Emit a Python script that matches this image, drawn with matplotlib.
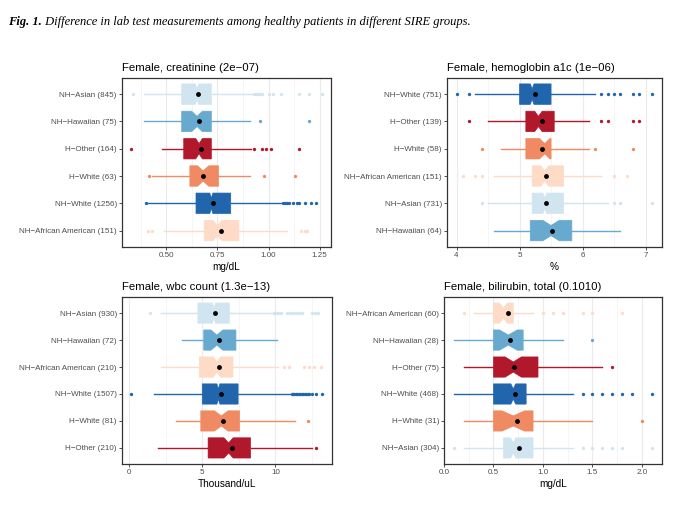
import numpy as np
import matplotlib.pyplot as plt
from matplotlib.ticker import MultipleLocator, FormatStrFormatter

plt.rcParams['font.family'] = ['Liberation Sans', 'DejaVu Sans']

# couleurs par groupe (palette RdBu)
couleurs = {'H-Other': '#B2182B', 'H-White': '#EF8A62', 'NH-African American': '#FDDBC7',
            'NH-Asian': '#D1E5F0', 'NH-Hawaiian': '#67A9CF', 'NH-White': '#2166AC'}

#%% creatinine
cre_groupes = ['NH-Asian', 'NH-Hawaiian', 'H-Other', 'H-White', 'NH-White', 'NH-African American']
cre_n = [845, 75, 164, 63, 1256, 151]
cre_bas = [0.39, 0.39, 0.48, 0.43, 0.41, 0.49]
cre_q1 = [0.575, 0.575, 0.585, 0.615, 0.645, 0.685]
cre_med = [0.65, 0.65, 0.66, 0.68, 0.72, 0.75]
cre_q3 = [0.72, 0.72, 0.72, 0.755, 0.815, 0.855]
cre_haut = [0.92, 0.91, 0.915, 0.91, 1.06, 1.09]
cre_moy = [0.655, 0.662, 0.67, 0.68, 0.727, 0.767]
cre_ext = [[0.335, 0.93, 0.94, 0.95, 0.96, 0.97, 1.00, 1.02, 1.06, 1.15, 1.20, 1.26],
           [0.96, 1.20],
           [0.328, 0.93, 0.97, 0.99, 1.01, 1.15],
           [0.415, 0.98, 1.13],
           [0.40, 1.07, 1.08, 1.09, 1.10, 1.12, 1.14, 1.15, 1.18, 1.21, 1.23],
           [0.41, 0.43, 1.16, 1.18, 1.19]]

#%% hemoglobin a1c
hba_groupes = ['NH-White', 'H-Other', 'H-White', 'NH-African American', 'NH-Asian', 'NH-Hawaiian']
hba_n = [751, 139, 58, 151, 731, 64]
hba_bas = [4.3, 4.5, 4.7, 4.6, 4.5, 4.6]
hba_q1 = [5.0, 5.1, 5.1, 5.2, 5.2, 5.17]
hba_med = [5.2, 5.3, 5.4, 5.4, 5.4, 5.5]
hba_q3 = [5.5, 5.55, 5.5, 5.7, 5.7, 5.83]
hba_haut = [6.2, 6.1, 6.1, 6.3, 6.4, 6.6]
hba_moy = [5.25, 5.35, 5.35, 5.42, 5.42, 5.52]
hba_ext = [[4.0, 4.2, 6.3, 6.4, 6.5, 6.6, 6.8, 6.9, 7.1],
           [4.2, 6.3, 6.4, 6.8, 6.9],
           [4.4, 6.2, 6.8],
           [4.1, 4.3, 4.4, 6.5, 6.7],
           [4.4, 6.5, 6.6, 7.1],
           []]

#%% wbc count
wbc_groupes = ['NH-Asian', 'NH-Hawaiian', 'NH-African American', 'NH-White', 'H-White', 'H-Other']
wbc_n = [930, 72, 210, 1507, 81, 210]
wbc_bas = [2.2, 3.6, 2.2, 1.7, 3.2, 2.0]
wbc_q1 = [4.7, 5.1, 4.8, 5.0, 4.9, 5.4]
wbc_med = [5.8, 6.0, 6.0, 6.1, 6.3, 6.8]
wbc_q3 = [6.85, 7.3, 7.1, 7.45, 7.55, 8.3]
wbc_haut = [9.8, 10.1, 10.2, 11.0, 11.35, 12.5]
wbc_moy = [5.9, 6.13, 6.13, 6.29, 6.4, 7.0]
wbc_ext = [[1.4, 9.9, 10.0, 10.1, 10.2, 10.4, 10.8, 11.0, 11.2, 11.4, 11.6, 11.8, 12.5, 12.7, 12.9],
           [],
           [10.6, 10.9, 11.95, 12.3, 12.6, 13.1],
           [0.15, 11.1, 11.2, 11.3, 11.4, 11.5, 11.6, 11.7, 11.8, 11.9, 12.0, 12.1, 12.2, 12.3,
            12.5, 12.8, 13.2],
           [12.2],
           [12.8]]

#%% bilirubin, total
bil_groupes = ['NH-African American', 'NH-Hawaiian', 'H-Other', 'NH-White', 'H-White', 'NH-Asian']
bil_n = [60, 28, 75, 468, 31, 304]
bil_bas = [0.3, 0.1, 0.2, 0.1, 0.2, 0.2]
bil_q1 = [0.5, 0.5, 0.5, 0.5, 0.5, 0.6]
bil_med = [0.6, 0.65, 0.7, 0.7, 0.7, 0.7]
bil_q3 = [0.7, 0.8, 0.95, 0.83, 0.9, 0.9]
bil_haut = [0.9, 1.2, 1.6, 1.3, 1.5, 1.3]
bil_moy = [0.645, 0.665, 0.71, 0.72, 0.74, 0.76]
bil_ext = [[0.2, 1.0, 1.1, 1.2, 1.4, 1.5, 1.8],
           [1.5],
           [1.7],
           [1.4, 1.5, 1.6, 1.7, 1.8, 1.9, 2.1],
           [2.0],
           [0.1, 1.4, 1.5, 1.6, 1.7, 1.8, 2.1]]


def trace_panneau(ax, titre, unite, groupes, n, bas, q1, med, q3, haut, moy, ext,
                  pas, pas_mineur, fmt):
    k = len(groupes)
    positions = np.arange(k, 0, -1)
    for i in range(k):
        c = couleurs[groupes[i]]
        encoche = 1.58 * (q3[i] - q1[i]) / np.sqrt(n[i])  # comme ggplot
        stats = [dict(med=med[i], q1=q1[i], q3=q3[i], whislo=bas[i], whishi=haut[i],
                      fliers=ext[i], mean=moy[i], cilo=med[i] - encoche, cihi=med[i] + encoche)]
        ax.bxp(stats, positions=[positions[i]], widths=0.75, orientation='horizontal',
               patch_artist=True, shownotches=True, showcaps=False, showmeans=True,
               manage_ticks=False,
               boxprops=dict(facecolor=c, edgecolor=c, linewidth=0.5),
               whiskerprops=dict(color=c, linewidth=1.0),
               medianprops=dict(color=c, linewidth=0),
               flierprops=dict(marker='o', markersize=2.4, markerfacecolor=c,
                               markeredgecolor='none'),
               meanprops=dict(marker='o', markersize=3.5, markerfacecolor='black',
                              markeredgecolor='none'))
    # limites x : étendue des données + 5 %
    tout = np.concatenate([bas, haut] + [np.array(e) for e in ext if len(e)])
    etendue = tout.max() - tout.min()
    ax.set_xlim(tout.min() - 0.05 * etendue, tout.max() + 0.05 * etendue)
    ax.set_ylim(0.4, k + 0.6)
    ax.set_yticks(positions)
    ax.set_yticklabels([g.replace('-', '\u2212') + ' (%d)' % nn for g, nn in zip(groupes, n)])
    ax.xaxis.set_major_locator(MultipleLocator(pas))
    ax.xaxis.set_minor_locator(MultipleLocator(pas_mineur))
    ax.xaxis.set_major_formatter(FormatStrFormatter(fmt))
    ax.set_axisbelow(True)
    ax.grid(True, axis='x', which='major', color='#EBEBEB', linewidth=0.8)
    ax.grid(True, axis='x', which='minor', color='#F2F2F2', linewidth=0.5)
    ax.tick_params(which='major', length=2, width=0.6, color='#333333',
                   labelsize=5.8, labelcolor='#4D4D4D', pad=1.5)
    ax.tick_params(which='minor', length=0)
    for s in ax.spines.values():
        s.set_color('#333333')
        s.set_linewidth(0.9)
    ax.set_title(titre.replace('-', '\u2212'), loc='left', fontsize=8.2, pad=5)
    ax.set_xlabel(unite, fontsize=7.2, labelpad=2)


fig = plt.figure(figsize=(6.8, 5.05), dpi=100)
ax1 = fig.add_axes([0.179, 0.511, 0.308, 0.335])
ax2 = fig.add_axes([0.657, 0.511, 0.316, 0.335])
ax3 = fig.add_axes([0.179, 0.081, 0.309, 0.331])
ax4 = fig.add_axes([0.653, 0.081, 0.320, 0.331])

trace_panneau(ax1, 'Female, creatinine (2e-07)', 'mg/dL', cre_groupes, cre_n, cre_bas, cre_q1,
              cre_med, cre_q3, cre_haut, cre_moy, cre_ext, 0.25, 0.125, '%.2f')
trace_panneau(ax2, 'Female, hemoglobin a1c (1e-06)', '%', hba_groupes, hba_n, hba_bas, hba_q1,
              hba_med, hba_q3, hba_haut, hba_moy, hba_ext, 1, 0.5, '%d')
trace_panneau(ax3, 'Female, wbc count (1.3e-13)', 'Thousand/uL', wbc_groupes, wbc_n, wbc_bas,
              wbc_q1, wbc_med, wbc_q3, wbc_haut, wbc_moy, wbc_ext, 5, 2.5, '%d')
trace_panneau(ax4, 'Female, bilirubin, total (0.1010)', 'mg/dL', bil_groupes, bil_n, bil_bas,
              bil_q1, bil_med, bil_q3, bil_haut, bil_moy, bil_ext, 0.5, 0.25, '%.1f')

# titre de la figure
t1 = fig.text(0.012, 0.951, 'Fig. 1.', fontfamily='Liberation Serif', style='italic',
              weight='bold', fontsize=9, va='baseline')
ax1.annotate(' Difference in lab test measurements among healthy patients in different SIRE groups.',
             xy=(1, 0), xycoords=t1, va='bottom', ha='left', fontfamily='Liberation Serif',
             style='italic', fontsize=9, annotation_clip=False)

fig.savefig('out.png', dpi=100)
